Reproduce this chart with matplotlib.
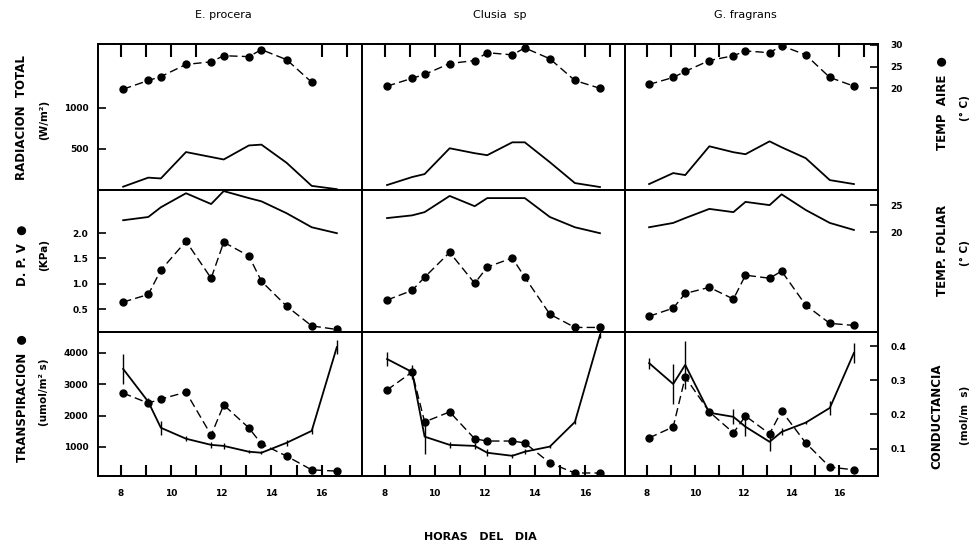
import matplotlib
matplotlib.use("Agg")
import matplotlib.pyplot as plt

plt.rcParams['font.family'] = ['DejaVu Sans']

# horas de medicion
hours = [8.1, 9.1, 9.6, 10.6, 11.6, 12.1, 13.1, 13.6, 14.6, 15.6, 16.6]
species = ['E. procera', 'Clusia  sp', 'G. fragrans']

# radiacion total (W/m2) -> linea continua
rad_ep = [40, 150, 140, 460, 400, 370, 540, 550, 330, 50, 10]
rad_cl = [60, 157, 193, 506, 446, 422, 578, 578, 337, 84, 36]
rad_gf = [72, 205, 181, 530, 458, 434, 590, 518, 386, 120, 72]

# temperatura del aire (C) -> puntos
tair_ep = [19.8, 21.8, 22.7, 25.5, 26.1, 27.5, 27.3, 28.9, 26.6, 21.4]
tair_cl = [20.5, 22.3, 23.2, 25.7, 26.4, 28.2, 27.7, 29.3, 26.8, 21.8, 20.0]
tair_gf = [20.9, 22.5, 23.9, 26.4, 27.5, 28.6, 28.2, 29.8, 27.7, 22.5, 20.5]

# deficit de presion de vapor (KPa) -> puntos
dpv_ep = [0.64, 0.79, 1.27, 1.84, 1.11, 1.82, 1.55, 1.05, 0.56, 0.17, 0.10]
dpv_cl = [0.68, 0.87, 1.13, 1.62, 1.01, 1.33, 1.51, 1.13, 0.40, 0.14, 0.14]
dpv_gf = [0.36, 0.52, 0.81, 0.93, 0.70, 1.17, 1.11, 1.25, 0.58, 0.22, 0.18]

# temperatura foliar (C) -> linea continua
tfol_ep = [22.2, 22.8, 24.6, 27.2, 25.2, 27.6, 26.3, 25.7, 23.5, 20.9, 19.8]
tfol_cl = [22.6, 23.1, 23.7, 26.7, 24.8, 26.3, 26.3, 26.3, 22.8, 20.9, 19.8]
tfol_gf = [20.9, 21.7, 22.6, 24.3, 23.7, 25.6, 25.0, 27.0, 24.1, 21.7, 20.4]

# transpiracion (umol/m2 s) -> puntos
tr_ep = [2720, 2400, 2530, 2750, 1380, 2340, 1610, 1100, 710, 270, 230]
tr_cl = [2820, 3390, 1800, 2120, 1260, 1190, 1190, 1130, 490, 170, 170]
tr_gf = [1290, 1640, 3230, 2120, 1450, 1990, 1420, 2150, 1130, 360, 270]

# conductancia (mol/m s) -> linea continua con barras de error
gs_ep = [0.333, 0.237, 0.161, 0.129, 0.111, 0.108, 0.091, 0.088, 0.117, 0.152, 0.397]
gs_cl = [0.362, 0.324, 0.135, 0.111, 0.108, 0.088, 0.079, 0.091, 0.106, 0.178, 0.432]
gs_gf = [0.350, 0.289, 0.345, 0.205, 0.193, 0.164, 0.120, 0.149, 0.176, 0.219, 0.380]
err_ep = [0.045, 0.010, 0.020, 0.008, 0.008, 0.008, 0.005, 0.005, 0.008, 0.008, 0.020]
err_cl = [0.020, 0.020, 0.050, 0.008, 0.008, 0.010, 0.005, 0.008, 0.005, 0.005, 0.010]
err_gf = [0.016, 0.058, 0.070, 0.005, 0.022, 0.028, 0.028, 0.010, 0.005, 0.020, 0.030]

rad = [rad_ep, rad_cl, rad_gf]
tair = [tair_ep, tair_cl, tair_gf]
dpv = [dpv_ep, dpv_cl, dpv_gf]
tfol = [tfol_ep, tfol_cl, tfol_gf]
tr = [tr_ep, tr_cl, tr_gf]
gs = [gs_ep, gs_cl, gs_gf]
err = [err_ep, err_cl, err_gf]

W, H = 975, 549
cols = [(98, 362), (362, 625), (625, 878)]
rows = [(44, 190), (190, 332), (332, 476)]

fig = plt.figure(figsize=(W / 100, H / 100), dpi=100)

def box(c, r):
    x0, x1 = cols[c]
    y0, y1 = rows[r]
    return [x0 / W, 1 - y1 / H, (x1 - x0) / W, (y1 - y0) / H]

dots = dict(color='black', marker='o', markersize=5, linestyle=(0, (6, 3)), linewidth=1.0)
solid = dict(color='black', linestyle='-', linewidth=1.3)
tickfont = dict(size=6.5, weight='bold')

left_lim = [(0, 1770), (0.05, 2.85), (74, 4670)]
right_lim = [(-3.4, 30.2), (1.5, 27.8), (0.02, 0.441)]
left_ticks = [([500, 1000], ['500', '1000']),
              ([0.5, 1.0, 1.5, 2.0], ['0.5', '1.0', '1.5', '2.0']),
              ([1000, 2000, 3000, 4000], ['1000', '2000', '3000', '4000'])]
right_ticks = [([20, 25, 30], ['20', '25', '30']),
               ([20, 25], ['20', '25']),
               ([0.1, 0.2, 0.3, 0.4], ['0.1', '0.2', '0.3', '0.4'])]

for r in range(3):
    for c in range(3):
        ax = fig.add_axes(box(c, r))
        ax2 = ax.twinx()
        if r == 0:
            ax.plot(hours, rad[c], **solid)
            ax2.plot(hours[:len(tair[c])], tair[c], **dots)
        elif r == 1:
            ax.plot(hours, dpv[c], **dots)
            ax2.plot(hours, tfol[c], **solid)
        else:
            ax.plot(hours, tr[c], **dots)
            ax2.errorbar(hours, gs[c], yerr=err[c], ecolor='black', elinewidth=1.0,
                         capsize=0, **solid)
        ax.set_xlim(7.1, 17.6)
        ax.set_ylim(*left_lim[r])
        ax2.set_ylim(*right_lim[r])
        for a in (ax, ax2):
            for s in a.spines.values():
                s.set_linewidth(1.3)
            a.tick_params(direction='in', width=1.2, length=6)
        # eje y izquierdo solo en la primera columna
        if c == 0:
            ax.set_yticks(left_ticks[r][0], left_ticks[r][1], fontdict=tickfont)
            ax.tick_params(axis='y', pad=7)
        else:
            ax.set_yticks([])
        # eje y derecho solo en la ultima columna
        if c == 2:
            ax2.set_yticks(right_ticks[r][0], right_ticks[r][1], fontdict=tickfont)
            ax2.tick_params(axis='y', pad=9)
        else:
            ax2.set_yticks([])
        # eje x
        if r == 0:
            ax.xaxis.tick_top()
            ax.set_xticks([8, 9, 10, 11, 16, 17], [''] * 6)
            ax.tick_params(axis='x', length=9, width=1.5)
        elif r == 1:
            ax.set_xticks([])
        else:
            ax.set_xticks(range(8, 17), ['8', '', '10', '', '12', '', '14', '', '16'],
                          fontdict=tickfont)
            ax.tick_params(axis='x', length=8, width=1.5, pad=9)

def label(x, y, s, size=8.5, rot=90, weight='bold'):
    fig.text(x / W, 1 - y / H, s, rotation=rot, ha='center', va='center',
             size=size, weight=weight)

for c, name in enumerate(species):
    label([223, 500, 745][c], 15, name, size=8, rot=0, weight='normal')

label(22, 118, 'RADIACION  TOTAL')
label(44, 120, '(W/m²)', size=7.5)
label(22, 255, 'D. P. V  ●')
label(44, 255, '(KPa)', size=7.5)
label(22, 398, 'TRANSPIRACION  ●')
label(44, 392, '(umol/m² s)', size=7.5)

label(942, 103, 'TEMP  AIRE  ●')
label(965, 108, '(° C)', size=7.5)
label(942, 250, 'TEMP. FOLIAR')
label(965, 253, '(° C)', size=7.5)
label(937, 416, 'CONDUCTANCIA')
label(965, 415, '(mol/m  s)', size=7.5)

label(480, 537, 'HORAS   DEL   DIA', size=8, rot=0)

fig.savefig('out.png', dpi=100, facecolor='white')
